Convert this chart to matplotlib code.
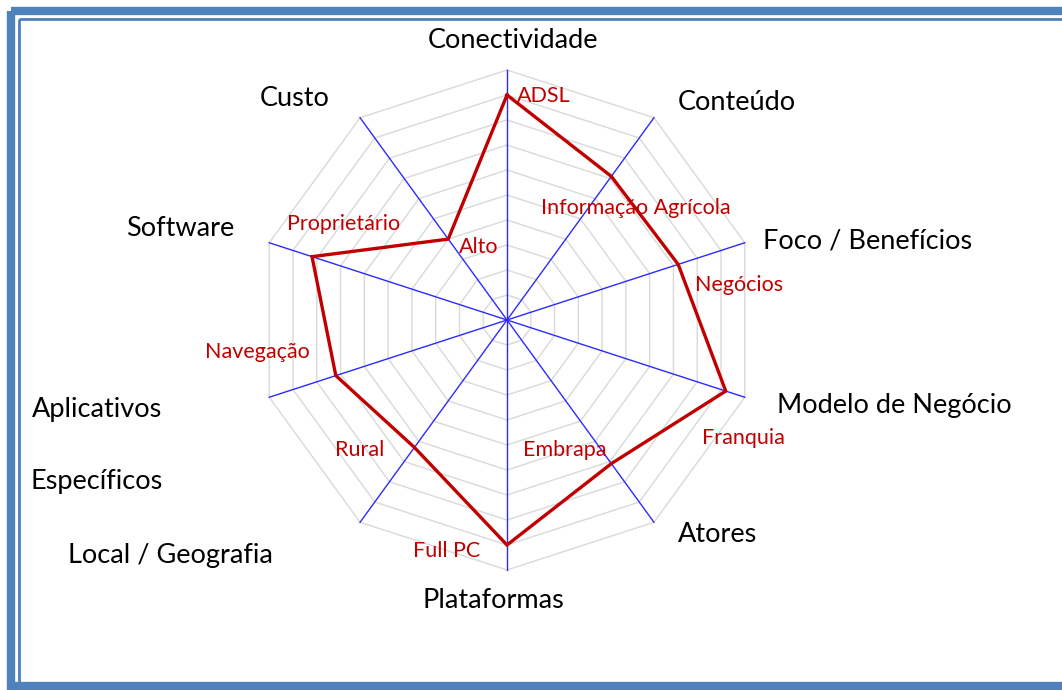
import numpy as np
import matplotlib.pyplot as plt
from matplotlib.patches import Rectangle

plt.rcParams['font.family'] = ['Lato', 'DejaVu Sans']

# axes clockwise from the top
categories = ["Conectividade", "Conteúdo", "Foco / Benefícios", "Modelo de Negócio",
              "Atores", "Plataformas", "Local / Geografia", "Aplicativos\nEspecíficos",
              "Software", "Custo"]
values = [0.90, 0.71, 0.72, 0.92, 0.71, 0.90, 0.63, 0.72, 0.82, 0.40]
point_labels = ["ADSL", "Informação Agrícola", "Negócios", "Franquia", "Embrapa",
                "Full PC", "Rural", "Navegação", "Proprietário", "Alto"]

# layout (pixel space)
cx, cy, R = 507, 320, 250
n = len(categories)
ang = np.pi / 2 - np.arange(n) * 2 * np.pi / n

def xy(r, a):
    return cx + R * r * np.cos(a), cy - R * r * np.sin(a)

fig = plt.figure(figsize=(10.62, 6.9), dpi=100)
ax = fig.add_axes([0, 0, 1, 1])
ax.set_xlim(0, 1062)
ax.set_ylim(690, 0)
ax.axis("off")

# page border
blue = "#4F81BD"
ax.add_patch(Rectangle((11, 11), 1070, 675, fill=False, lw=6, ec=blue))
ax.add_patch(Rectangle((18.5, 18.5), 1060, 665, fill=False, lw=2, ec=blue))

# grid rings
aa = np.append(ang, ang[0])
for k in range(1, 11):
    gx, gy = xy(k / 10, aa)
    ax.plot(gx, gy, color="#D9D9D9", lw=1, zorder=1)

# spokes
for a in ang:
    ex, ey = xy(1.0, a)
    ax.plot([cx, ex], [cy, ey], color="#2B2BFF", lw=1, zorder=2)

# data line
vv = np.append(values, values[0])
px, py = xy(vv, aa)
ax.plot(px, py, color="#C00000", lw=2.4, zorder=3, solid_joinstyle="miter")

# category labels
cat_pos = [(513, 40), (737, 103), (868, 241), (894, 405), (718, 534),
           (493, 600), (170, 555), (97, 409), (180, 228), (295, 99)]
for t, (x, y) in zip(categories, cat_pos):
    for i, line in enumerate(t.split("\n")):
        ax.text(x, y + 72 * i, line, ha="center", va="center", fontsize=19.5,
                color="black")

# point labels
lab_pos = [(544, 96), (636, 208), (739, 285), (743, 438), (565, 450),
           (447, 551), (360, 450), (257, 352), (344, 224), (479, 247)]
for t, (x, y) in zip(point_labels, lab_pos):
    ax.text(x, y, t, ha="center", va="center", fontsize=15.5, color="#C00000")

fig.savefig("out.png", dpi=100)
